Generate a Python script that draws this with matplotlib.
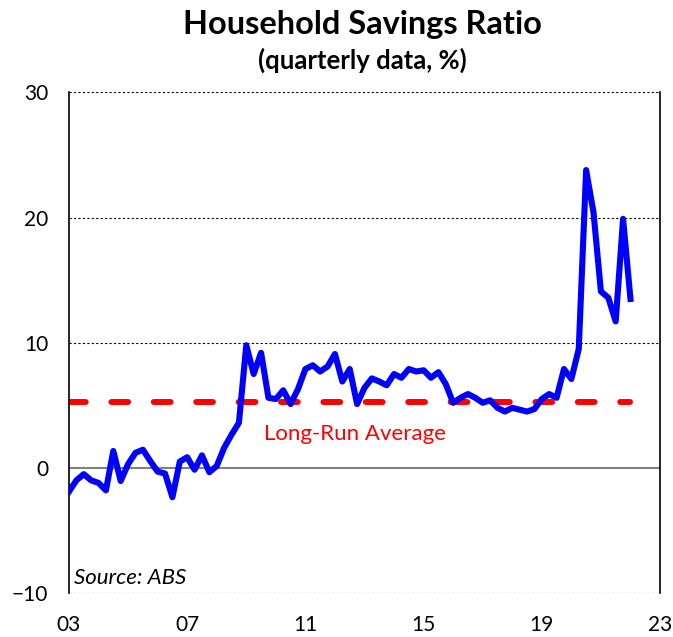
import numpy as np
import matplotlib.pyplot as plt

plt.rcParams['font.family'] = ['Lato', 'DejaVu Sans']

# quarterly household savings ratio, Dec-2002 to Dec-2021 (quarter-end)
start_year = 2003.0
savings = [
    -1.9, -1.0, -0.5, -1.0, -1.2, -1.8, 1.35, -1.05, 0.3, 1.2,
    1.45, 0.55, -0.3, -0.45, -2.35, 0.5, 0.85, -0.15, 1.0, -0.35,
    0.15, 1.6, 2.65, 3.6, 9.8, 7.5, 9.2, 5.6, 5.5, 6.2,
    5.1, 6.3, 7.9, 8.2, 7.7, 8.1, 9.1, 6.9, 7.9, 5.1,
    6.4, 7.15, 6.9, 6.6, 7.5, 7.2, 7.9, 7.7, 7.8, 7.2,
    7.65, 6.7, 5.2, 5.6, 5.9, 5.6, 5.2, 5.4, 4.8, 4.5,
    4.8, 4.65, 4.5, 4.7, 5.5, 5.9, 5.6, 7.9, 7.1, 9.5,
    23.8, 20.4, 14.1, 13.6, 11.7, 19.9, 13.5,
]
long_run_avg = 5.3

xtick_years = [2003, 2007, 2011, 2015, 2019, 2023]
xtick_labels = ['03', '07', '11', '15', '19', '23']
yticks = [-10, 0, 10, 20, 30]

x = start_year + np.arange(len(savings)) / 4

fig = plt.figure(figsize=(6.73, 6.37), dpi=100)
ax = fig.add_axes([0.1025, 0.0691, 0.8782, 0.7857])

# gridlines: dotted, with a solid grey zero line
for y in [-10, 10, 20, 30]:
    ax.axhline(y, color='black', lw=0.8, ls=(0, (2, 2)), zorder=1)
ax.axhline(0, color='#808080', lw=1.5, zorder=1)

ax.plot([x[0], x[-1]], [long_run_avg, long_run_avg], color='red', lw=4.3,
        ls=(0, (2.8, 4.3)), dash_capstyle='round', zorder=2)
ax.plot(x, savings, color='blue', lw=4.4, solid_joinstyle='round', zorder=3)

ax.set_xlim(2003, 2023)
ax.set_ylim(-10, 30)
ax.set_xticks(xtick_years)
ax.set_xticklabels(xtick_labels)
ax.set_yticks(yticks)
ax.tick_params(length=0, labelsize=15)
ax.tick_params(axis='x', pad=16)
ax.tick_params(axis='y', pad=15)

ax.spines['top'].set_visible(False)
ax.spines['bottom'].set_visible(False)
for side in ['left', 'right']:
    ax.spines[side].set_linewidth(1.2)

ax.text(2009.6, 2.7, 'Long-Run Average', color='red', fontsize=16,
        ha='left', va='center')
ax.text(2003.17, -8.8, 'Source: ABS', fontsize=16, style='italic',
        ha='left', va='center')

fig.text(0.538, 0.962, 'Household Savings Ratio', fontsize=23.4,
         fontweight='bold', ha='center', va='center')
fig.text(0.538, 0.905, '(quarterly data, %)', fontsize=18.5,
         fontweight='bold', ha='center', va='center')

fig.savefig('out.png', dpi=100)
